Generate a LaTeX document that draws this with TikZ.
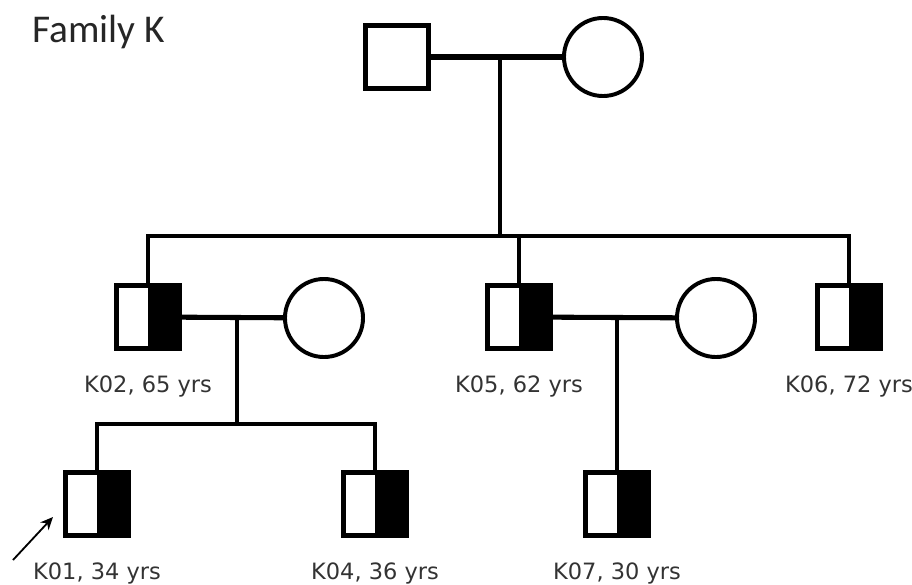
\documentclass[tikz,border=0pt]{standalone}
\usepackage{fontspec}
\setmainfont{DejaVu Sans}
\newfontfamily\titlefont{Carlito}
\usetikzlibrary{arrows.meta, positioning}

\begin{document}
\begin{tikzpicture}[
    x=0.025cm, y=-0.025cm,
    >={Stealth[length=9pt, width=8pt]},
    male/.style={draw, line width=3.4pt, minimum size=1.57cm, inner sep=0pt},
    carrier/.style={male, path picture={\fill (path picture bounding box.north) rectangle (path picture bounding box.south east);}},
    female/.style={draw, circle, line width=2.8pt, minimum size=1.95cm, inner sep=0pt},
    mate/.style={line width=3.6pt},
    kin/.style={line width=2.4pt},
    tag/.style={font=\fontsize{16}{18}\selectfont, text=black!80}
]
\useasboundingbox (0,0) rectangle (912,584);

% Titel
\node[font=\titlefont\fontsize{28}{30}\selectfont, anchor=base west, inner sep=0pt, text=black!85] (title) at (32,43) {Family K};

% Generation I
\node[male] (f1) at (397,57) {};
\node[female] (m1) at (603,57) {};
\draw[mate] (f1) -- (m1);
\coordinate (c1) at (500,57);
\coordinate (s1) at (500,236);

% Generation II
\node[carrier] (k02) at (148,317) {};
\node[female] (w2) at (324,318) {};
\node[carrier] (k05) at (519,317) {};
\node[female] (w5) at (716,318) {};
\node[carrier] (k06) at (849,317) {};

\node[tag, below=0.5cm of k02] (k02l) {K02, 65 yrs};
\node[tag, below=0.5cm of k05] (k05l) {K05, 62 yrs};
\node[tag, below=0.5cm of k06] (k06l) {K06, 72 yrs};

\draw[kin] (c1) -- (s1);
\draw[kin] (k02.north) |- (k06.north |- s1) -- (k06.north);
\draw[kin] (k05.north) -- (k05.north |- s1);

\draw[mate] (k02) -- (w2);
\draw[mate] (k05) -- (w5);
\coordinate (c2) at (237,317);
\coordinate (s2) at (237,424);
\coordinate (c5) at (617,317);

% Generation III
\node[carrier] (k01) at (97,504) {};
\node[carrier] (k04) at (375,504) {};
\node[carrier] (k07) at (617,504) {};

\node[tag, below=0.5cm of k01] (k01l) {K01, 34 yrs};
\node[tag, below=0.5cm of k04] (k04l) {K04, 36 yrs};
\node[tag, below=0.5cm of k07] (k07l) {K07, 30 yrs};

\draw[kin] (c2) -- (s2);
\draw[kin] (k01.north) |- (k04.north |- s2) -- (k04.north);
\draw[kin] (c5) -- (k07.north);

% Proband
\coordinate (tail) at (13,560);
\coordinate (tip) at (53,517);
\draw[->, line width=1.3pt] (tail) -- (tip);

\end{tikzpicture}
\end{document}
